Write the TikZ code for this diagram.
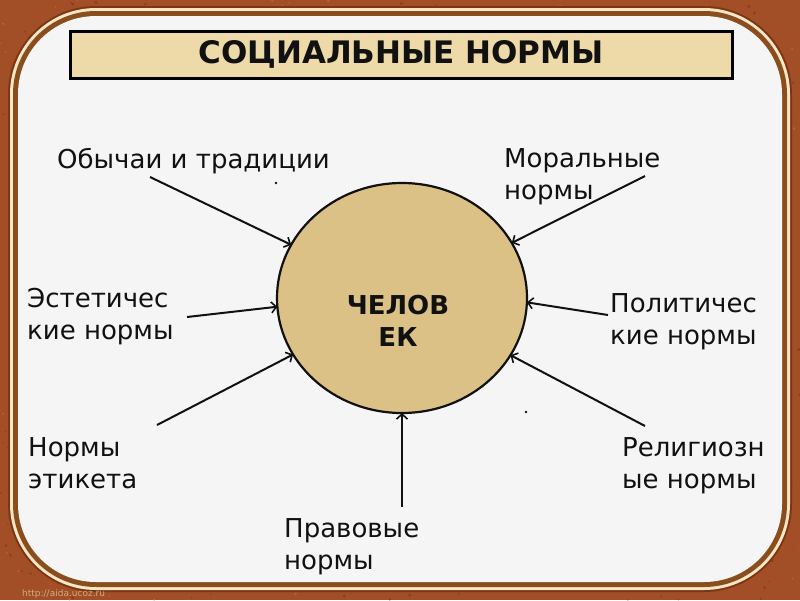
\documentclass[tikz,border=0pt]{standalone}
\usepackage{fontspec}
\setmainfont{DejaVu Sans}
\usetikzlibrary{arrows.meta,shapes.geometric}
\definecolor{rust}{HTML}{A24E26}
\definecolor{rustdark}{HTML}{7E3514}
\definecolor{rustlight}{HTML}{C8703C}
\definecolor{cream}{HTML}{F7E7C6}
\definecolor{band}{HTML}{8A4E1E}
\definecolor{inner}{HTML}{F5F5F5}
\definecolor{titletan}{HTML}{EDDAA8}
\definecolor{circtan}{HTML}{DCC187}
\definecolor{txt}{HTML}{111111}
\begin{document}
\begin{tikzpicture}[x=1pt,y=-1pt,
  lab/.style={anchor=north west, inner sep=0pt, align=left, text=txt,
    font=\fontsize{26}{32}\selectfont},
  arr/.style={line width=2pt, draw=txt,
    -{Straight Barb[length=5pt,width=11pt,line width=1.6pt]}},
  titlebox/.style={draw=black, line width=3pt, fill=titletan, inner sep=0pt,
    minimum width=662pt, minimum height=47pt, text=txt,
    font=\bfseries\fontsize{31}{36}\selectfont},
  manshape/.style={ellipse, draw=txt, line width=2.2pt, fill=circtan,
    minimum width=250pt, minimum height=230pt, inner sep=0pt, outer sep=0pt},
  mantext/.style={align=center, inner sep=0pt, text=txt,
    font=\bfseries\fontsize{26}{32}\selectfont}
]
\useasboundingbox (0,0) rectangle (800,600);
% textured background
\fill[rust] (0,0) rectangle (800,600);
\pgfmathsetseed{7}
\foreach \i in {1,...,700} {
  \fill[rustdark, opacity=0.6] ({800*rnd},{600*rnd}) circle ({0.6+1.2*rnd});
}
\foreach \i in {1,...,500} {
  \fill[rustlight, opacity=0.6] ({800*rnd},{600*rnd}) circle ({0.5+1.0*rnd});
}
% frame
\fill[rustdark, rounded corners=88pt] (8,6) rectangle (792,592);
\fill[cream, rounded corners=86pt] (10,8) rectangle (790,590);
\fill[band, rounded corners=83pt] (13,11) rectangle (787,587);
\fill[inner, rounded corners=78pt] (18,16) rectangle (782,582);
% watermark
\node[anchor=base west, inner sep=0pt, text=cream, opacity=0.6,
  font=\fontsize{9}{10}\selectfont] (wm) at (22,596) {http://aida.ucoz.ru};
% title
\node[titlebox] (title) at (401,54.5) {СОЦИАЛЬНЫЕ НОРМЫ};
% centre
\node[manshape] (man) at (402,298) {};
\node[mantext] (mantxt) at (398,321) {ЧЕЛОВ\\ЕК};
% labels
\node[lab] (l1) at (57,148) {Обычаи и традиции};
\node[lab] (l2) at (504,148) {Моральные\\нормы};
\node[lab] (l3) at (27,288) {Эстетичес\\кие нормы};
\node[lab] (l4) at (610,293) {Политичес\\кие нормы};
\node[lab] (l5) at (28,437) {Нормы\\этикета};
\node[lab] (l6) at (622,437) {Религиозн\\ые нормы};
\node[lab] (l7) at (284,518) {Правовые\\нормы};
% arrow tails
\coordinate (t1) at (150,177);
\coordinate (t2) at (645,176);
\coordinate (t3) at (187,317);
\coordinate (t4) at (608,315);
\coordinate (t5) at (157,425);
\coordinate (t6) at (645,426);
\coordinate (t7) at (402,507);
\draw[arr] (t1) -- (man);
\draw[arr] (t2) -- (man);
\draw[arr] (t3) -- (man.184);
\draw[arr] (t4) -- (man.-2);
\draw[arr] (t5) -- (man);
\draw[arr] (t6) -- (man);
\draw[arr] (t7) -- (man);
% small dots
\coordinate (d1) at (276,183);
\coordinate (d2) at (526,412);
\fill[txt] (d1) circle (1.3pt);
\fill[txt] (d2) circle (1.3pt);
\end{tikzpicture}
\end{document}
